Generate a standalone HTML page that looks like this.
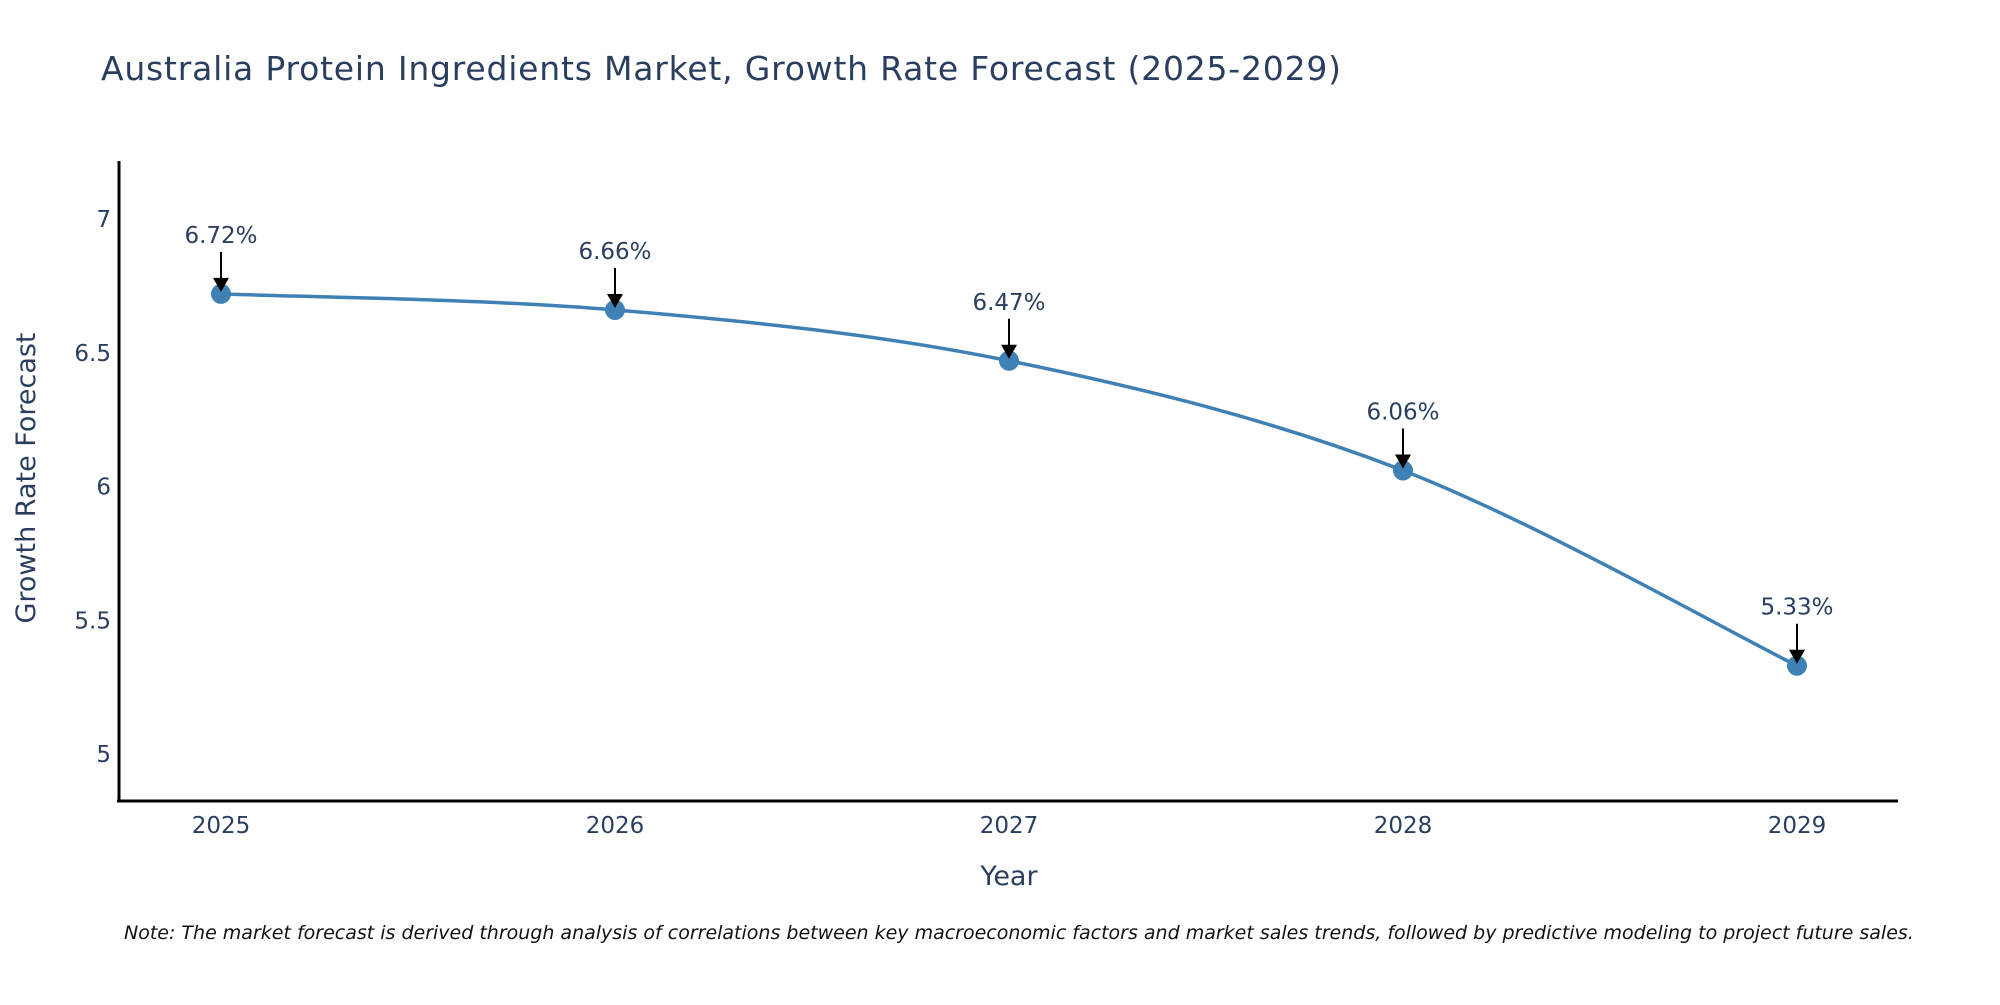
<!DOCTYPE html>
<html><head><meta charset="utf-8"><style>
html,body{margin:0;padding:0;background:#fff;}
svg text{font-family:"DejaVu Sans","Liberation Sans",sans-serif;fill:#2a3f5f;}
</style></head><body>
<svg id="chart" width="2000" height="1000" viewBox="0 0 2000 1000" xmlns="http://www.w3.org/2000/svg">
<rect width="2000" height="1000" fill="#fff"/>
<text x="101" y="80" font-size="33" textLength="1240">Australia Protein Ingredients Market, Growth Rate Forecast (2025-2029)</text>
<g id="axes"></g>
<g id="series"></g>
<text transform="translate(35,478) rotate(-90)" text-anchor="middle" font-size="27">Growth Rate Forecast</text>
<text x="1009" y="885" text-anchor="middle" font-size="27">Year</text>
<text x="124" y="939" font-size="19" font-style="italic" style="fill:#111">Note: The market forecast is derived through analysis of correlations between key macroeconomic factors and market sales trends, followed by predictive modeling to project future sales.</text>
</svg>
<script>
const years = [2025, 2026, 2027, 2028, 2029];
const rates = [6.72, 6.66, 6.47, 6.06, 5.33];
const yTicks = [5, 5.5, 6, 6.5, 7];
const yTickLabels = ["5", "5.5", "6", "6.5", "7"];

const NS = "http://www.w3.org/2000/svg";
const xPos = v => 221 + (v - 2025) * 394;
const yPos = v => 754 - (v - 5) * 267.5;
function mk(tag, attrs, parent){const e=document.createElementNS(NS,tag);for(const k in attrs)e.setAttribute(k,attrs[k]);parent.appendChild(e);return e;}
const axes=document.getElementById('axes'), series=document.getElementById('series');

const yl=mk('line',{x1:119,y1:161,x2:119,y2:802,stroke:'#000','stroke-width':3},axes);


const xl=mk('line',{x1:117,y1:801,x2:1898,y2:801,stroke:'#000','stroke-width':3},axes);



yTicks.forEach((t,i)=>{
  const e=mk('text',{x:111,y:yPos(t)+8,'text-anchor':'end','font-size':23},axes);
  e.textContent=yTickLabels[i];
  
  
});
years.forEach(yr=>{
  const e=mk('text',{x:xPos(yr),y:833,'text-anchor':'middle','font-size':23},axes);
  e.textContent=String(yr);
  
  
});

const pts=years.map((y,i)=>[xPos(y),yPos(rates[i])]);
let d=`M${pts[0][0]},${pts[0][1]}`;
for(let i=0;i<pts.length-1;i++){
  const p0=pts[i-1]||pts[i],p1=pts[i],p2=pts[i+1],p3=pts[i+2]||p2;
  const t=1/3;
  const c1=[p1[0]+(p2[0]-p0[0])*t/2,p1[1]+(p2[1]-p0[1])*t/2];
  const c2=[p2[0]-(p3[0]-p1[0])*t/2,p2[1]-(p3[1]-p1[1])*t/2];
  d+=` C${c1[0]},${c1[1]} ${c2[0]},${c2[1]} ${p2[0]},${p2[1]}`;
}
const line=mk('path',{d:d,fill:'none',stroke:'#3f80b5','stroke-width':3.5},series);



pts.forEach((p,i)=>{
  const c=mk('circle',{cx:p[0],cy:p[1],r:10,fill:'#3f80b5'},series);
  
  
  const a=mk('line',{x1:p[0],y1:p[1]-42,x2:p[0],y2:p[1]-14,stroke:'#000','stroke-width':2},series);
  
  
  const h=mk('polygon',{points:`${p[0]-8},${p[1]-16} ${p[0]+8},${p[1]-16} ${p[0]},${p[1]-2}`,fill:'#000'},series);
  
  
  const t=mk('text',{x:p[0],y:p[1]-51,'text-anchor':'middle','font-size':23},series);
  t.textContent=rates[i].toFixed(2)+'%';
  
  
});
</script>
</body></html>
